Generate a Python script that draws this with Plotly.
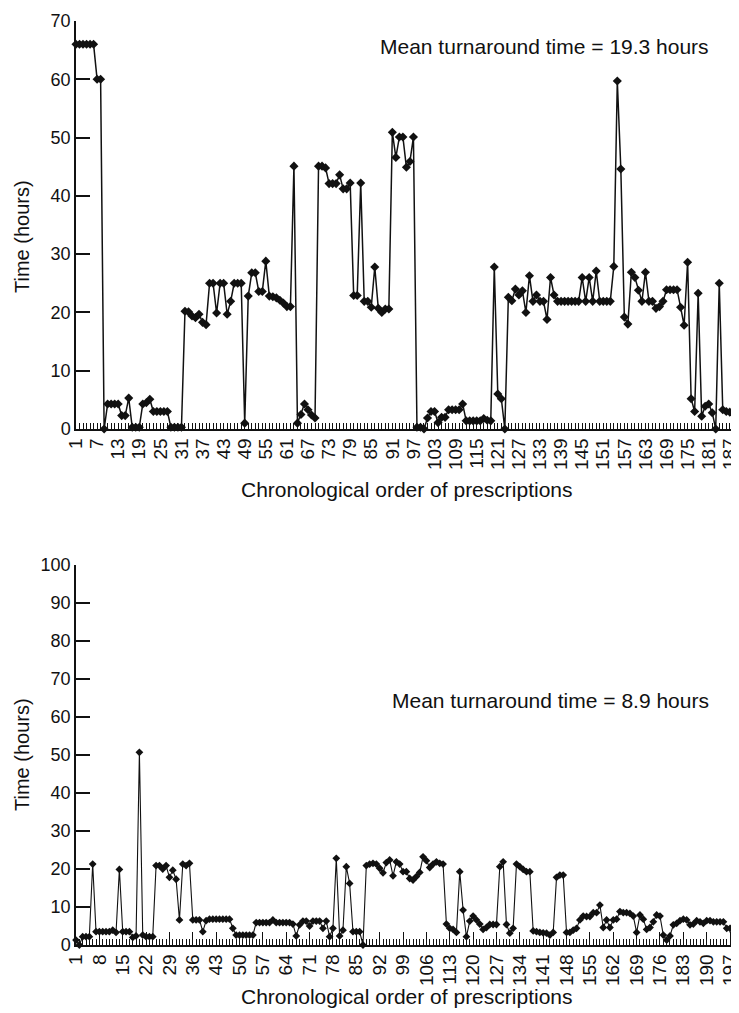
import plotly.graph_objects as go
from plotly.subplots import make_subplots

# ---------------- data ----------------
top_hours = [
    66, 66, 66, 66, 66, 66, 60, 60, 0, 4.3,
    4.3, 4.3, 4.3, 2.3, 2.3, 5.3, 0.3, 0.3, 0.3, 4.3,
    4.5, 5.1, 3.0, 3.0, 3.0, 3.0, 3.0, 0.3, 0.3, 0.3,
    0.3, 20.2, 20.1, 19.4, 19.1, 19.7, 18.3, 17.9, 25, 25,
    19.9, 25, 25, 19.7, 21.9, 25, 25, 25, 1.0, 22.8,
    26.8, 26.8, 23.6, 23.6, 28.8, 22.8, 22.7, 22.5, 22.1, 21.6,
    21, 21, 45.1, 1.0, 2.5, 4.3, 3.3, 2.4, 1.9, 45.1,
    45.1, 44.8, 42.1, 42.1, 42.1, 43.6, 41.2, 41.2, 42.2, 22.9,
    22.9, 42.2, 21.9, 21.9, 20.9, 27.8, 20.7, 20.0, 20.6, 20.6,
    50.9, 46.6, 50.1, 50.1, 44.9, 45.9, 50.1, 0.3, 0.3, 0,
    1.9, 3.0, 3.0, 1.1, 2.0, 2.0, 3.3, 3.3, 3.3, 3.3,
    4.3, 1.4, 1.4, 1.4, 1.4, 1.4, 1.8, 1.5, 1.4, 27.8,
    6.0, 5.2, 0, 22.6, 22.0, 24.0, 23.0, 23.7, 20.0, 26.3,
    21.9, 23.0, 21.9, 21.9, 18.8, 26.0, 23.0, 21.9, 21.9, 21.9,
    21.9, 21.9, 21.9, 21.9, 26.0, 21.9, 26.0, 21.9, 27.1, 21.9,
    21.9, 21.9, 21.9, 27.9, 59.7, 44.6, 19.2, 18.0, 26.9, 26.0,
    23.8, 21.9, 26.9, 21.9, 21.9, 20.7, 21.0, 21.9, 23.9, 23.9,
    23.9, 23.9, 20.9, 17.8, 28.6, 5.2, 3.0, 23.3, 2.2, 3.9,
    4.3, 2.8, 0, 25.0, 3.3, 3.0, 2.9, 2.9,
]
bottom_hours = [
    1.3, 0, 2.2, 2.2, 2.2, 21.3, 3.5, 3.5, 3.5, 3.5,
    3.5, 3.9, 3.3, 19.9, 3.5, 3.5, 3.5, 2.0, 2.4, 50.7,
    2.6, 2.2, 2.2, 2.2, 20.9, 20.9, 20.0, 20.9, 17.8, 19.7,
    17.3, 6.6, 21.3, 20.9, 21.5, 6.6, 6.6, 6.6, 3.5, 6.4,
    6.8, 6.8, 6.8, 6.8, 6.8, 6.8, 6.8, 4.4, 2.6, 2.6,
    2.6, 2.6, 2.6, 2.6, 5.9, 5.9, 5.9, 5.9, 5.9, 6.6,
    5.9, 5.9, 5.9, 5.9, 5.9, 5.5, 2.4, 5.3, 6.3, 6.3,
    5.0, 6.3, 6.3, 6.3, 4.4, 6.3, 2.2, 4.4, 22.8, 2.4,
    3.9, 20.6, 16.2, 3.5, 3.5, 3.5, 0, 20.9, 21.3, 21.5,
    21.3, 20.2, 19.0, 21.7, 22.4, 18.2, 21.9, 21.3, 19.3, 19.3,
    17.5, 17.1, 18.0, 19.1, 23.2, 22.2, 20.4, 21.3, 21.9, 21.5,
    21.3, 5.5, 4.4, 4.1, 3.3, 19.3, 9.2, 2.2, 6.3, 7.6,
    6.6, 5.5, 4.1, 4.6, 5.4, 5.4, 5.4, 20.6, 21.9, 5.4,
    3.1, 4.4, 21.3, 20.6, 19.9, 19.3, 19.3, 3.7, 3.5, 3.3,
    3.2, 3.1, 2.6, 3.3, 17.8, 18.4, 18.4, 3.3, 3.3, 3.9,
    4.4, 6.6, 7.6, 7.5, 7.5, 8.5, 8.5, 10.5, 4.6, 6.6,
    4.6, 6.6, 6.8, 8.8, 8.5, 8.5, 8.3, 7.6, 3.3, 7.9,
    6.8, 4.1, 4.6, 6.1, 7.9, 7.6, 2.6, 1.3, 2.4, 5.3,
    5.7, 6.4, 6.8, 6.6, 5.3, 5.5, 6.4, 6.1, 5.7, 6.4,
    6.4, 6.1, 6.1, 6.1, 6.1, 4.4, 4.4, 3.3, 4.4,
]
top_order = list(range(1, len(top_hours) + 1))
bottom_order = list(range(1, len(bottom_hours) + 1))

top_tickvals = list(range(1, 188, 6))
bottom_tickvals = list(range(1, 198, 7))
top_yticks = [0, 10, 20, 30, 40, 50, 60, 70]
bottom_yticks = [0, 10, 20, 30, 40, 50, 60, 70, 80, 90, 100]

top_mean_label = "Mean turnaround time = 19.3 hours"
bottom_mean_label = "Mean turnaround time = 8.9 hours"
x_title = "Chronological order of prescriptions"
y_title = "Time (hours)"

# ---------------- layout geometry ----------------
# The page body adds an 8 px margin, so the figure is 8 px smaller and
# all positions below are in screen pixels minus that offset.
OFF = 8
W, H = 739 - OFF, 1013 - OFF
ML, MR, MT, MB = 76 - OFF, 0, 21 - OFF, (1013 - 945)
PW, PH = W - ML - MR, H - MT - MB


def py(screen_y):
    return (H - MB - (screen_y - OFF)) / PH


def px(screen_x):
    return ((screen_x - OFF) - ML) / PW


X_RIGHT = 739  # screen x where the x axes end
FONT = "Liberation Sans, Arial, Helvetica, sans-serif"
INK = "#111111"

fig = make_subplots(rows=2, cols=1)

fig.add_trace(go.Scatter(
    x=top_order, y=top_hours, mode="lines+markers",
    line=dict(color=INK, width=1.5),
    marker=dict(symbol="diamond", size=7, color=INK),
    cliponaxis=False, showlegend=False), row=1, col=1)
fig.add_trace(go.Scatter(
    x=bottom_order, y=bottom_hours, mode="lines+markers",
    line=dict(color=INK, width=1.1),
    marker=dict(symbol="diamond", size=6, color=INK),
    cliponaxis=False, showlegend=False), row=2, col=1)

axis_common = dict(showgrid=False, zeroline=False, showline=True,
                   linecolor=INK, linewidth=1.5, tickcolor=INK,
                   color=INK)

fig.update_layout(
    width=W, height=H,
    margin=dict(l=ML, r=MR, t=MT, b=MB, pad=0),
    paper_bgcolor="white", plot_bgcolor="white",
    font=dict(family=FONT, color=INK),
    xaxis=dict(domain=[0, 1], range=[1, 1 + (X_RIGHT - 76) / 3.515],
               tickmode="array", tickvals=top_tickvals,
               ticks="inside", ticklen=6, tickwidth=1,
               tickangle=-90, tickfont=dict(size=19),
               ticklabeloverflow="allow",
               minor=dict(tickmode="linear", tick0=1, dtick=1,
                          ticks="inside", ticklen=6, tickwidth=1,
                          tickcolor=INK),
               **axis_common),
    yaxis=dict(domain=[py(429), 1], range=[0, 70],
               tickmode="array", tickvals=top_yticks,
               ticks="inside", ticklen=14, tickwidth=1.5,
               tickfont=dict(size=18), **axis_common),
    xaxis2=dict(domain=[0, 1], range=[1, 1 + (X_RIGHT - 76) / 3.337],
                tickmode="array", tickvals=bottom_tickvals,
                ticks="inside", ticklen=13, tickwidth=1,
                tickangle=-90, tickfont=dict(size=19),
                ticklabeloverflow="allow",
                minor=dict(tickmode="linear", tick0=1, dtick=1,
                           ticks="inside", ticklen=6, tickwidth=1,
                           tickcolor=INK),
                **axis_common),
    yaxis2=dict(domain=[0, py(565)], range=[0, 100],
                tickmode="array", tickvals=bottom_yticks,
                ticks="inside", ticklen=14, tickwidth=1.5,
                tickfont=dict(size=18), **axis_common),
)

ann = [
    dict(text=top_mean_label, x=px(711), y=py(46), xanchor="right",
         yanchor="middle", font=dict(size=21)),
    dict(text=bottom_mean_label, x=px(711), y=py(700), xanchor="right",
         yanchor="middle", font=dict(size=21)),
    dict(text=x_title, x=px(407), y=py(489), xanchor="center",
         yanchor="middle", font=dict(size=21)),
    dict(text=x_title, x=px(407), y=py(996), xanchor="center",
         yanchor="middle", font=dict(size=21)),
    dict(text=y_title, x=px(22), y=py(237), xanchor="center",
         yanchor="middle", textangle=-90, font=dict(size=20)),
    dict(text=y_title, x=px(22), y=py(755), xanchor="center",
         yanchor="middle", textangle=-90, font=dict(size=20)),
]
for a in ann:
    a.update(xref="paper", yref="paper", showarrow=False)
    a["font"].update(family=FONT, color=INK)
fig.update_layout(annotations=ann)

fig.write_html("out.html")
